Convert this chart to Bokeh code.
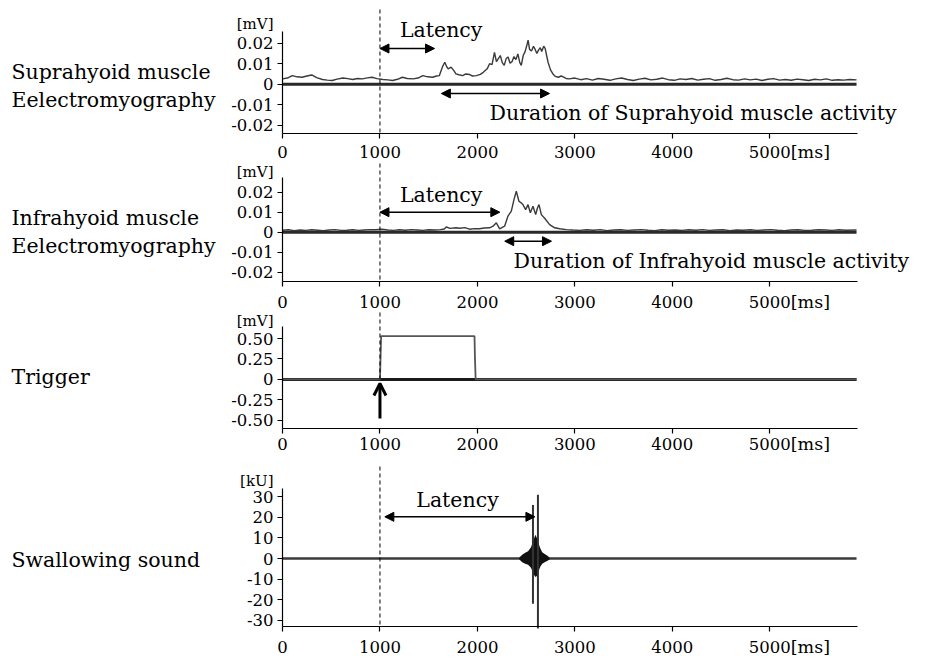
from bokeh.plotting import figure
from bokeh.layouts import column
from bokeh.models import Label, Arrow, NormalHead, OpenHead, FixedTicker
from bokeh.embed import file_html
from bokeh.resources import INLINE

FONT = "DejaVu Serif"

# ---------------- data ----------------
x_ticks = [0, 1000, 2000, 3000, 4000, 5000]
x_tick_labels = ["0", "1000", "2000", "3000", "4000", "5000"]
x_max = 5900

emg_ticks = [-0.02, -0.01, 0, 0.01, 0.02]
emg_tick_labels = ["-0.02", "-0.01", "0", "0.01", "0.02"]
trig_ticks = [-0.5, -0.25, 0, 0.25, 0.5]
trig_tick_labels = ["-0.50", "-0.25", "0", "0.25", "0.50"]
sound_ticks = [-30, -20, -10, 0, 10, 20, 30]
sound_tick_labels = ["-30", "-20", "-10", "0", "10", "20", "30"]

# Suprahyoid EMG [mV]
supra_t = [0, 50, 100, 150, 200, 250, 300, 350, 410, 460, 510, 560, 620, 670, 720, 770,
           820, 870, 920, 970, 1030, 1080, 1130, 1180, 1230, 1280, 1340, 1390, 1440, 1490,
           1540, 1580, 1610, 1640, 1665, 1685, 1700, 1730, 1760, 1780, 1810, 1850, 1880,
           1920, 1950, 1990, 2030, 2060, 2100, 2125, 2150, 2175, 2195, 2215, 2235, 2255,
           2275, 2295, 2315, 2335, 2355, 2375, 2395, 2415, 2435, 2450, 2470, 2490, 2510,
           2520, 2535, 2555, 2575, 2590, 2610, 2625, 2645, 2660, 2680, 2695, 2710, 2725,
           2750, 2775, 2800, 2830, 2860, 2880, 2910, 2940, 3000, 3060, 3120, 3180, 3240,
           3300, 3360, 3420, 3480, 3540, 3600, 3660, 3720, 3780, 3840, 3900, 3960, 4020,
           4080, 4140, 4200, 4260, 4320, 4380, 4440, 4500, 4560, 4620, 4680, 4740, 4800,
           4860, 4920, 4980, 5040, 5100, 5160, 5220, 5280, 5340, 5400, 5460, 5520, 5580,
           5640, 5700, 5760, 5820, 5890]
supra_v = [0.0026, 0.0030, 0.0042, 0.0036, 0.0034, 0.0040, 0.0045, 0.0032, 0.0023, 0.0020,
           0.0018, 0.0025, 0.0030, 0.0027, 0.0023, 0.0028, 0.0026, 0.0031, 0.0034, 0.0027,
           0.0023, 0.0021, 0.0018, 0.0024, 0.0034, 0.0028, 0.0026, 0.0030, 0.0042, 0.0036,
           0.0034, 0.0040, 0.0042, 0.0083, 0.0107, 0.0085, 0.0075, 0.0083, 0.0065, 0.0050,
           0.0046, 0.0042, 0.0050, 0.0047, 0.0040, 0.0042, 0.0048, 0.0058, 0.0075, 0.0100,
           0.0095, 0.0155, 0.0110, 0.0125, 0.0140, 0.0105, 0.0092, 0.0125, 0.0133, 0.0102,
           0.0110, 0.0135, 0.0120, 0.0148, 0.0105, 0.0092, 0.0140, 0.0160, 0.0195, 0.0215,
           0.0170, 0.0162, 0.0185, 0.0172, 0.0150, 0.0165, 0.0178, 0.0160, 0.0185, 0.0175,
           0.0140, 0.0107, 0.0070, 0.0050, 0.0038, 0.0034, 0.0040, 0.0036, 0.0028, 0.0026,
           0.0030, 0.0022, 0.0027, 0.0020, 0.0028, 0.0024, 0.0019, 0.0026, 0.0030, 0.0023,
           0.0018, 0.0025, 0.0029, 0.0021, 0.0024, 0.0030, 0.0022, 0.0019, 0.0026, 0.0023,
           0.0028, 0.0020, 0.0024, 0.0027, 0.0019, 0.0023, 0.0029, 0.0022, 0.0020, 0.0026,
           0.0021, 0.0025, 0.0018, 0.0024, 0.0027, 0.0020, 0.0023, 0.0019, 0.0025, 0.0022,
           0.0018, 0.0024, 0.0021, 0.0026, 0.0019, 0.0022, 0.0020, 0.0023, 0.0021]

# Infrahyoid EMG [mV]
infra_t = [0, 60, 120, 180, 240, 300, 360, 420, 480, 540, 600, 660, 720, 780, 840, 900,
           960, 1020, 1080, 1140, 1200, 1260, 1320, 1380, 1440, 1500, 1560, 1620, 1660,
           1680, 1720, 1780, 1820, 1870, 1920, 1970, 2020, 2070, 2125, 2160, 2194, 2228,
           2279, 2313, 2348, 2375, 2399, 2426, 2445, 2467, 2495, 2519, 2543, 2570, 2598,
           2615, 2632, 2656, 2690, 2741, 2793, 2844, 2913, 2980, 3050, 3120, 3190, 3260,
           3330, 3400, 3470, 3540, 3610, 3680, 3750, 3820, 3890, 3960, 4030, 4100, 4170,
           4240, 4310, 4380, 4450, 4520, 4590, 4660, 4730, 4800, 4870, 4940, 5010, 5080,
           5150, 5220, 5290, 5360, 5430, 5500, 5570, 5640, 5710, 5780, 5890]
infra_v = [0.0010, 0.0012, 0.0008, 0.0011, 0.0009, 0.0012, 0.0010, 0.0008, 0.0011, 0.0013,
           0.0009, 0.0010, 0.0012, 0.0009, 0.0011, 0.0013, 0.0012, 0.0015, 0.0011, 0.0009,
           0.0012, 0.0010, 0.0013, 0.0011, 0.0009, 0.0012, 0.0011, 0.0013, 0.0016, 0.0026,
           0.0019, 0.0022, 0.0020, 0.0023, 0.0015, 0.0018, 0.0017, 0.0021, 0.0022, 0.0030,
           0.0047, 0.0017, 0.0030, 0.0080, 0.0105, 0.0163, 0.0205, 0.0155, 0.0148, 0.0138,
           0.0113, 0.0138, 0.0097, 0.0130, 0.0088, 0.0120, 0.0138, 0.0088, 0.0070, 0.0038,
           0.0022, 0.0017, 0.0013, 0.0011, 0.0009, 0.0012, 0.0010, 0.0013, 0.0008, 0.0011,
           0.0012, 0.0009, 0.0011, 0.0013, 0.0010, 0.0008, 0.0012, 0.0010, 0.0011, 0.0009,
           0.0012, 0.0010, 0.0013, 0.0009, 0.0011, 0.0012, 0.0008, 0.0011, 0.0010, 0.0012,
           0.0009, 0.0011, 0.0013, 0.0010, 0.0008, 0.0011, 0.0012, 0.0009, 0.0010, 0.0012,
           0.0011, 0.0009, 0.0012, 0.0010, 0.0011]

# Trigger [mV]
trig_t = [0, 1000, 1012, 1970, 1975, 1982, 5890]
trig_v = [0, 0, 0.53, 0.53, 0.25, 0, 0]

# Swallowing sound [kU]
sound_base_t = [0, 5890]
sound_base_v = [0, 0]
sound_env_t = [2430, 2460, 2490, 2520, 2550, 2575, 2595, 2610, 2625, 2645, 2665, 2690, 2715, 2740]
sound_env_hi = [0.5, 1.8, 2.8, 3.5, 5.5, 9, 11.5, 10, 7.5, 5, 3, 2.2, 1.5, 0.5]
sound_env_lo = [-0.5, -1.8, -2.5, -3, -4.5, -7.5, -9, -8.5, -6.5, -4, -2.5, -1.8, -1.2, -0.5]
spike_t = [2570, 2621]
spike_hi = [26, 31]
spike_lo = [-22, -34]

# timing annotations [ms]
trigger_onset = 1000
supra_latency_end = 1560
supra_duration = (1630, 2740)
infra_latency_end = 2230
infra_duration = (2280, 2760)
sound_latency = (1050, 2590)

# ---------------- layout geometry (page pixels) ----------------
OFF_X, OFF_Y = 1, 1
FIG_W = 928
X0_PX, X1_PX = 283, 858          # pixel of t=0 and t=x_max
XS = (X1_PX - X0_PX) / x_max     # px per ms


def px_x(px):
    return (px - X0_PX) / XS


class Panel:
    def __init__(self, top, bot, zero, ppu):
        self.top, self.bot, self.zero, self.ppu = top, bot, zero, ppu

    def v(self, py):
        return (self.zero - py) / self.ppu


def make_fig(pn, ax_top_px, ax_bot_px, ticks, labels, x_standoff=6):
    y_end = pn.v(pn.top)
    y_start = pn.v(pn.bot)
    p = figure(x_range=(px_x(OFF_X), px_x(OFF_X + FIG_W)), y_range=(y_start, y_end),
               width=FIG_W, height=pn.bot - pn.top,
               min_border_left=0, min_border_right=0, min_border_top=0, min_border_bottom=0,
               toolbar_location=None, output_backend="svg", tools="")
    p.outline_line_color = None
    p.grid.visible = False
    p.background_fill_color = "white"
    p.border_fill_color = "white"
    ya0, ya1 = pn.v(ax_bot_px), pn.v(ax_top_px)
    xa = p.xaxis[0]
    ya = p.yaxis[0]
    xa.fixed_location = ya0
    xa.bounds = (0, x_max)
    ya.fixed_location = 0
    ya.bounds = (ya0, ya1)
    for ax in (xa, ya):
        ax.major_tick_in = 0
        ax.major_tick_out = 5
        ax.minor_tick_line_color = None
        ax.axis_line_color = "black"
        ax.axis_line_width = 1.2
        ax.major_tick_line_color = "black"
        ax.major_tick_line_width = 1.2
        ax.major_label_text_font = FONT
        ax.major_label_text_font_size = "16.5px"
        ax.major_label_text_color = "black"
    xa.major_label_standoff = x_standoff
    ya.major_label_standoff = 4
    xa.ticker = FixedTicker(ticks=x_ticks)
    xa.major_label_overrides = {t: l for t, l in zip(x_ticks, x_tick_labels)}
    ya.ticker = FixedTicker(ticks=ticks)
    ya.major_label_overrides = {t: l for t, l in zip(ticks, labels)}
    # [ms] after 5000
    p.add_layout(Label(x=x_ticks[-1], y=ya0, x_offset=21, y_offset=-(11 + x_standoff),
                       text="[ms]", text_font=FONT, text_font_size="17.5px",
                       text_align="left", text_baseline="middle", text_color="black"))
    return p, ya0, ya1


def add_text(p, x, y, txt, align="left", size="20.5px"):
    p.add_layout(Label(x=x, y=y, text=txt, text_font=FONT, text_font_size=size,
                       text_align=align, text_baseline="middle", text_color="black"))


def add_unit(p, pn, txt, cy):
    p.add_layout(Label(x=px_x(274), y=pn.v(cy), text=txt, text_font=FONT,
                       text_font_size="15px", text_align="right", text_baseline="middle",
                       text_color="black"))


def dbl_arrow(p, x0, x1, y):
    p.add_layout(Arrow(x_start=x0, x_end=x1, y_start=y, y_end=y, line_width=1.5,
                       start=NormalHead(size=9, fill_color="black", line_color="black"),
                       end=NormalHead(size=9, fill_color="black", line_color="black")))


def dashed(p, ytop, ybot):
    p.add_layout(Arrow(x_start=trigger_onset, x_end=trigger_onset, y_start=ytop, y_end=ybot,
                       start=None, end=None, line_dash="4 3", line_width=1, line_color="black"))


LX = px_x(12)

# ---- panel 1 : Suprahyoid ----
P1 = Panel(OFF_Y, 163, 84.7, 2050)
p1, a0, a1 = make_fig(P1, 32, 134, emg_ticks, emg_tick_labels, x_standoff=7)
p1.line(supra_t, [0] * len(supra_t), line_color="#2a2a2a", line_width=3)
p1.line(supra_t, supra_v, line_color="#3a3a3a", line_width=1.4)
add_unit(p1, P1, "[mV]", 24)
add_text(p1, LX, P1.v(72), "Suprahyoid muscle")
add_text(p1, LX, P1.v(100), "Eelectromyography")
dashed(p1, P1.v(10), a0)
dbl_arrow(p1, trigger_onset, supra_latency_end, P1.v(49))
add_text(p1, px_x(441.7), P1.v(30), "Latency", align="center")
dbl_arrow(p1, supra_duration[0], supra_duration[1], P1.v(94))
add_text(p1, px_x(490), P1.v(113), "Duration of Suprahyoid muscle activity")

# ---- panel 2 : Infrahyoid ----
P2 = Panel(163, 312, 232.7, 2000)
p2, a0, a1 = make_fig(P2, 178, 282, emg_ticks, emg_tick_labels, x_standoff=9)
p2.line(infra_t, [0] * len(infra_t), line_color="#2a2a2a", line_width=3)
p2.line(infra_t, infra_v, line_color="#3a3a3a", line_width=1.4)
add_unit(p2, P2, "[mV]", 172)
add_text(p2, LX, P2.v(218), "Infrahyoid muscle")
add_text(p2, LX, P2.v(246), "Eelectromyography")
dashed(p2, P2.v(164), a0)
dbl_arrow(p2, trigger_onset, infra_latency_end, P2.v(212.7))
add_text(p2, px_x(441.7), P2.v(195), "Latency", align="center")
dbl_arrow(p2, infra_duration[0], infra_duration[1], P2.v(241.7))
add_text(p2, px_x(514), P2.v(261.7), "Duration of Infrahyoid muscle activity")

# ---- panel 3 : Trigger ----
P3 = Panel(312, 458, 379.9, 81.7)
p3, a0, a1 = make_fig(P3, 327, 429, trig_ticks, trig_tick_labels, x_standoff=4)
p3.line(trig_t, [0] * len(trig_t), line_color="#1a1a1a", line_width=3)
p3.line(trig_t, trig_v, line_color="#555555", line_width=1.8)
add_unit(p3, P3, "[mV]", 321)
add_text(p3, LX, P3.v(377), "Trigger")
dashed(p3, P3.v(313), 0.0)
p3.add_layout(Arrow(x_start=trigger_onset, x_end=trigger_onset, y_start=P3.v(419),
                    y_end=P3.v(384), line_width=3, line_color="black",
                    end=OpenHead(size=12, line_width=3, line_color="black")))

# ---- panel 4 : Swallowing sound ----
P4 = Panel(458, 658, 559, 2.057)
p4, a0, a1 = make_fig(P4, 489, 627.3, sound_ticks, sound_tick_labels, x_standoff=9)
p4.line(sound_base_t, sound_base_v, line_color="#3a3a3a", line_width=2.5)
p4.varea(x=sound_env_t, y1=sound_env_lo, y2=sound_env_hi, fill_color="#111111")
p4.segment(x0=spike_t, y0=spike_lo, x1=spike_t, y1=spike_hi, line_color="#333333", line_width=2)
add_unit(p4, P4, "[kU]", 481)
add_text(p4, LX, P4.v(560), "Swallowing sound")
dashed(p4, P4.v(467), a0)
dbl_arrow(p4, sound_latency[0], sound_latency[1], P4.v(517.3))
add_text(p4, px_x(458), P4.v(500.7), "Latency", align="center")

layout = column(p1, p2, p3, p4, spacing=0)

open("out.html", "w").write(file_html(layout, INLINE))
